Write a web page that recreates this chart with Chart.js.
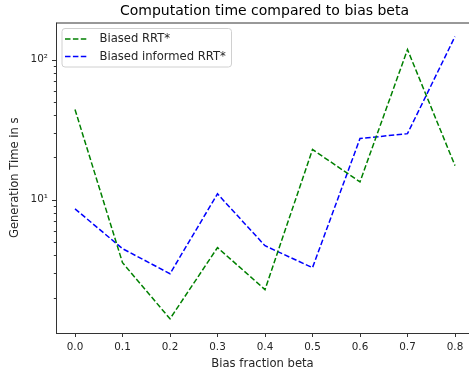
<!DOCTYPE html>
<html><head><meta charset="utf-8">
<script src="https://cdn.jsdelivr.net/npm/chart.js@4/dist/chart.umd.min.js"></script>
<style>html,body{margin:0;padding:0;background:#fff}#wrap{width:469px;height:376px}</style>
</head><body><div id="wrap"><canvas id="c" width="469" height="376"></canvas></div>
<script>
const chartTitle = 'Computation time compared to bias beta';
const betas = [0.0, 0.1, 0.2, 0.3, 0.4, 0.5, 0.6, 0.7, 0.8];
const biasedRRT = [44, 3.55, 1.41, 4.55, 2.28, 22.8, 13.4, 118, 17.5];
const biasedInformedRRT = [8.6, 4.47, 2.96, 11.0, 4.69, 3.27, 27.3, 29.6, 146];
const xTicks = [0.0, 0.1, 0.2, 0.3, 0.4, 0.5, 0.6, 0.7, 0.8];
const yTicks = [2,3,4,5,6,7,8,9,10,20,30,40,50,60,70,80,90,100];
const yMajor = {10: '10\u00b9', 100: '10\u00b2'};
const FONT = 'DejaVu Sans';
const TXT = '#262626';

const framePlugin = {
  id: 'frame',
  afterDraw(chart) {
    const {ctx, chartArea: a, scales} = chart;
    ctx.save();
    // title centred over the axes
    ctx.fillStyle = '#000';
    ctx.font = '14px ' + FONT;
    ctx.textAlign = 'center';
    ctx.textBaseline = 'middle';
    ctx.fillText(chartTitle, (a.left + 473) / 2, 11);
    ctx.textAlign = 'left';
    ctx.strokeStyle = '#333';
    ctx.lineWidth = 1;
    ctx.beginPath();
    ctx.moveTo(a.left + 0.5, a.top + 0.5); ctx.lineTo(a.right, a.top + 0.5);
    ctx.moveTo(a.left + 0.5, a.top); ctx.lineTo(a.left + 0.5, a.bottom + 0.5);
    ctx.moveTo(a.left, a.bottom + 0.5); ctx.lineTo(a.right, a.bottom + 0.5);
    ctx.stroke();
    // tick marks
    ctx.beginPath();
    scales.x.ticks.forEach(t => {
      const px = Math.round(scales.x.getPixelForValue(t.value)) + 0.5;
      ctx.moveTo(px, a.bottom); ctx.lineTo(px, a.bottom + 4);
    });
    scales.y.ticks.forEach(t => {
      const py = Math.round(scales.y.getPixelForValue(t.value)) + 0.5;
      const len = yMajor[t.value] ? 4 : 2.2;
      ctx.moveTo(a.left, py); ctx.lineTo(a.left - len, py);
    });
    ctx.stroke();
    // legend
    const bx = 61.5, by = 28, bw = 169.5, bh = 38.5;
    ctx.fillStyle = 'rgba(255,255,255,0.85)';
    ctx.strokeStyle = '#d0d0d0';
    ctx.beginPath();
    ctx.roundRect(bx + 0.5, by + 0.5, bw, bh, 3);
    ctx.fill(); ctx.stroke();
    chart.data.datasets.forEach((ds, i) => {
      const y = 39 + i * 17.5;
      ctx.strokeStyle = ds.borderColor;
      ctx.lineWidth = 1.5;
      ctx.setLineDash(ds.borderDash);
      ctx.beginPath(); ctx.moveTo(65, y); ctx.lineTo(88.5, y); ctx.stroke();
      ctx.setLineDash([]);
      ctx.fillStyle = TXT;
      ctx.font = '11.6px ' + FONT;
      ctx.textBaseline = 'middle';
      ctx.fillText(ds.label, 99.5, y);
    });
    ctx.restore();
  }
};

new Chart(document.getElementById('c'), {
  type: 'line',
  data: {
    datasets: [
      {label: 'Biased RRT*', data: betas.map((b, i) => ({x: b, y: biasedRRT[i]})),
       borderColor: '#008000', borderWidth: 1.5, borderDash: [5.5, 2.4], pointRadius: 0, fill: false, tension: 0},
      {label: 'Biased informed RRT*', data: betas.map((b, i) => ({x: b, y: biasedInformedRRT[i]})),
       borderColor: '#0000ff', borderWidth: 1.5, borderDash: [5.5, 2.4], pointRadius: 0, fill: false, tension: 0}
    ]
  },
  options: {
    responsive: false,
    animation: false,
    layout: {padding: {left: 0, right: 0, top: 22.5, bottom: 0}},
    plugins: {
      legend: {display: false},
      tooltip: {enabled: false},
      title: {display: false}
    },
    scales: {
      x: {
        type: 'linear', min: -0.04, max: 0.8295,
        afterBuildTicks: s => { s.ticks = xTicks.map(v => ({value: v})); },
        afterFit: s => { s.height = 43; s.paddingLeft = 0; s.paddingRight = 0; },
        grid: {display: false, drawTicks: false},
        border: {display: false},
        ticks: {padding: 8, color: TXT, font: {family: FONT, size: 10.4},
          callback: v => Number(v).toFixed(1), maxRotation: 0, autoSkip: false},
        title: {display: true, text: 'Bias fraction beta', color: TXT,
          font: {family: FONT, size: 11.6}, padding: {top: 0, bottom: 5.5}}
      },
      y: {
        type: 'logarithmic', min: 1.117, max: 184,
        afterBuildTicks: s => { s.ticks = yTicks.map(v => ({value: v, major: !!yMajor[v]})); },
        afterFit: s => { s.width = 56; s.paddingTop = 0; s.paddingBottom = 0; },
        grid: {display: false, drawTicks: false},
        border: {display: false},
        ticks: {padding: 8, color: TXT, font: {family: FONT, size: 10.4},
          callback: v => yMajor[v] || '', autoSkip: false},
        title: {display: true, text: 'Generation Time in s', color: TXT,
          font: {family: FONT, size: 11.6}, padding: {top: 8, bottom: 0}}
      }
    }
  },
  plugins: [framePlugin]
});
</script></body></html>
